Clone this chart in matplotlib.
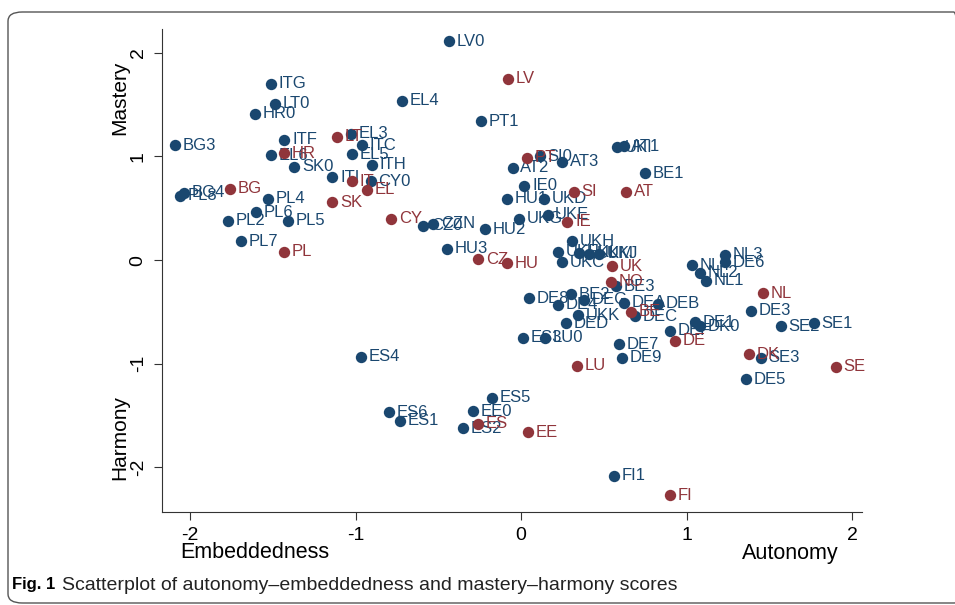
import matplotlib.pyplot as plt
from matplotlib.patches import FancyBboxPatch

plt.rcParams['font.family'] = ['Liberation Sans', 'DejaVu Sans']

# region scores (blue)
reg_labels = ['LV0', 'ITG', 'LT0', 'HR0', 'EL4', 'PT1', 'BG3', 'ITF', 'EL6', 'EL3',
              'ITC', 'EL5', 'ITH', 'SK0', 'ITI', 'CY0', 'BG4', 'PL8', 'PL4', 'PL6',
              'PL2', 'PL5', 'PL7', 'CZ0', 'CZN', 'HU3', 'HU2', 'HU1', 'UKD', 'IE0',
              'UKG', 'UKE', 'AT2', 'SI0', 'AT3', 'UKI', 'AT1', 'BE1', 'UKH', 'UKF',
              'UKC', 'UKL', 'UKM', 'UKJ', 'NL3', 'DE6', 'NL4', 'NL2', 'NL1', 'DE3',
              'SE2', 'SE1', 'DE1', 'DK0', 'DEF', 'SE3', 'DE5', 'DE7', 'DE9', 'ES3',
              'LU0', 'DE8', 'BE2', 'DE4', 'DEG', 'UKK', 'DED', 'DEA', 'DEB', 'DEC',
              'BE3', 'ES4', 'ES5', 'ES6', 'ES1', 'EE0', 'ES2', 'FI1']
reg_x = [-0.435, -1.51, -1.49, -1.61, -0.72, -0.24, -2.09, -1.43, -1.51, -1.03,
         -0.96, -1.02, -0.90, -1.37, -1.14, -0.91, -2.04, -2.06, -1.53, -1.60,
         -1.77, -1.41, -1.69, -0.59, -0.53, -0.45, -0.22, -0.085, 0.14, 0.02,
         -0.01, 0.16, -0.05, 0.115, 0.25, 0.58, 0.62, 0.75, 0.31, 0.225,
         0.25, 0.35, 0.41, 0.47, 1.23, 1.23, 1.03, 1.08, 1.12, 1.39,
         1.57, 1.77, 1.05, 1.08, 0.90, 1.45, 1.36, 0.59, 0.61, 0.01,
         0.145, 0.05, 0.30, 0.22, 0.38, 0.345, 0.27, 0.62, 0.83, 0.69,
         0.575, -0.97, -0.175, -0.80, -0.73, -0.29, -0.35, 0.56]
reg_y = [2.11, 1.70, 1.51, 1.41, 1.54, 1.34, 1.11, 1.16, 1.01, 1.22,
         1.11, 1.02, 0.92, 0.90, 0.80, 0.76, 0.65, 0.62, 0.59, 0.46,
         0.38, 0.38, 0.18, 0.33, 0.35, 0.11, 0.30, 0.59, 0.59, 0.72,
         0.40, 0.44, 0.89, 1.00, 0.95, 1.09, 1.10, 0.84, 0.18, 0.08,
         -0.02, 0.07, 0.06, 0.06, 0.05, -0.02, -0.05, -0.12, -0.20, -0.49,
         -0.64, -0.61, -0.60, -0.64, -0.68, -0.94, -1.15, -0.81, -0.94, -0.75,
         -0.75, -0.37, -0.33, -0.43, -0.38, -0.53, -0.61, -0.41, -0.42, -0.54,
         -0.25, -0.93, -1.33, -1.47, -1.55, -1.46, -1.62, -2.08]

# country scores (red)
cty_labels = ['LV', 'PT', 'SI', 'AT', 'IE', 'UK', 'NO', 'BE', 'NL', 'DE', 'DK', 'SE',
              'LU', 'CZ', 'HU', 'CY', 'SK', 'EL', 'IT', 'LT', 'HR', 'BG', 'PL', 'ES',
              'EE', 'FI']
cty_x = [-0.08, 0.035, 0.32, 0.635, 0.28, 0.55, 0.545, 0.665, 1.46, 0.93, 1.38, 1.90,
         0.34, -0.26, -0.085, -0.785, -1.14, -0.93, -1.02, -1.11, -1.43, -1.76, -1.43, -0.26,
         0.04, 0.90]
cty_y = [1.75, 0.99, 0.66, 0.66, 0.37, -0.06, -0.21, -0.50, -0.32, -0.78, -0.91, -1.03,
         -1.02, 0.01, -0.03, 0.40, 0.56, 0.68, 0.76, 1.19, 1.03, 0.69, 0.08, -1.58,
         -1.66, -2.27]

blue = '#1a476f'
red = '#90353b'

fig = plt.figure(figsize=(9.55, 6.05), dpi=100)
ax = fig.add_axes([162 / 955, 93 / 605, 700 / 955, 483 / 605])

ax.scatter(reg_x, reg_y, s=67, color=blue, zorder=3, linewidths=0)
for lab, x, y in zip(reg_labels, reg_x, reg_y):
    ax.annotate(lab, (x, y), xytext=(5.5, 0), textcoords='offset points',
                ha='left', va='center', fontsize=12, color=blue, zorder=3)

ax.scatter(cty_x, cty_y, s=67, color=red, zorder=4, linewidths=0)
for lab, x, y in zip(cty_labels, cty_x, cty_y):
    ax.annotate(lab, (x, y), xytext=(5.5, 0), textcoords='offset points',
                ha='left', va='center', fontsize=12, color=red, zorder=4)

ax.set_xlim(-2.17, 2.06)
ax.set_ylim(-2.43, 2.23)
ax.set_xticks([-2, -1, 0, 1, 2])
ax.set_yticks([-2, -1, 0, 1, 2])
ax.set_xticklabels(['-2', '-1', '0', '1', '2'], fontsize=14)
ax.set_yticklabels(['-2', '-1', '0', '1', '2'], fontsize=14, rotation=90, va='center')
ax.tick_params(direction='out', length=6, width=0.8, color='#333333', pad=5)
for side in ['top', 'right']:
    ax.spines[side].set_visible(False)
for side in ['left', 'bottom']:
    ax.spines[side].set_color('#333333')
    ax.spines[side].set_linewidth(0.8)

# axis end labels
fig.text(255 / 955, 1 - 553 / 605, 'Embeddedness', ha='center', va='center', fontsize=15.5)
fig.text(790 / 955, 1 - 553 / 605, 'Autonomy', ha='center', va='center', fontsize=15.5)
fig.text(120 / 955, 1 - 98 / 605, 'Mastery', ha='center', va='center', fontsize=15, rotation=90)
fig.text(120 / 955, 1 - 438 / 605, 'Harmony', ha='center', va='center', fontsize=15, rotation=90)

# caption
fig.text(12 / 955, 1 - 585 / 605, 'Fig. 1', ha='left', va='center', fontsize=12, fontweight='bold')
fig.text(62 / 955, 1 - 585 / 605, 'Scatterplot of autonomy\u2013embeddedness and mastery\u2013harmony scores',
         ha='left', va='center', fontsize=14, color='#222222')

# rounded frame around the figure
frame = FancyBboxPatch((8 / 955, 2 / 605), 960 / 955, 591 / 605,
                       boxstyle='round,pad=0,rounding_size=0.015',
                       transform=fig.transFigure, fill=False, edgecolor='#555555',
                       linewidth=1.0)
fig.patches.append(frame)

fig.savefig('out.png', dpi=100)
